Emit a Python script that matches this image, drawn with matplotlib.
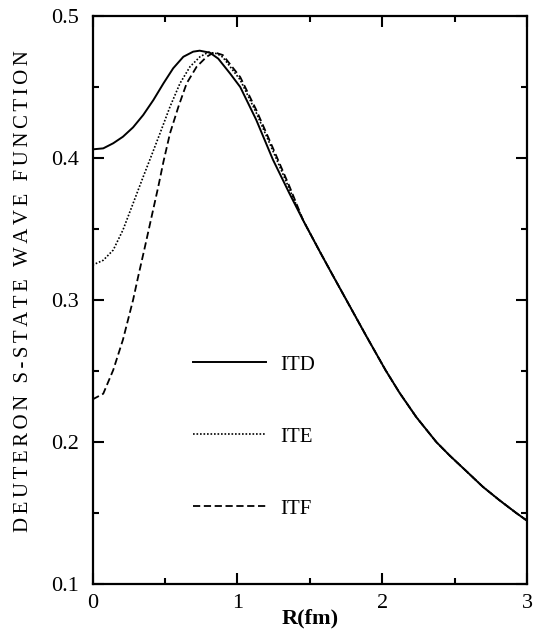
import numpy as np
import matplotlib
matplotlib.use('Agg')
import matplotlib.pyplot as plt
from matplotlib.ticker import MultipleLocator

plt.rcParams['font.family'] = ['Liberation Serif', 'DejaVu Serif']

# ---- values ----
# common tail (the three curves coincide beyond R ~ 1.45 fm)
r_tail = [1.455, 1.57, 1.661, 1.753, 1.891, 2.024, 2.121, 2.236, 2.374, 2.466,
          2.581, 2.695, 2.81, 2.926, 3.0]
psi_tail = [0.356, 0.334, 0.317, 0.300, 0.2745, 0.2505, 0.2345, 0.2175, 0.200, 0.1905,
            0.1795, 0.1685, 0.159, 0.150, 0.1446]

r_itd = [0.0, 0.074, 0.143, 0.21, 0.28, 0.35, 0.42, 0.49, 0.557, 0.627, 0.695, 0.74,
         0.81, 0.868, 0.95, 1.02, 1.13, 1.245, 1.36] + r_tail
psi_itd = [0.4061, 0.4068, 0.4104, 0.415, 0.4216, 0.4303, 0.4408, 0.4526, 0.4632, 0.4713, 0.4749, 0.4756,
           0.4742, 0.470, 0.4595, 0.450, 0.427, 0.399, 0.375] + psi_tail

r_ite = [0.0, 0.074, 0.143, 0.21, 0.28, 0.35, 0.408, 0.466, 0.535, 0.604, 0.673, 0.742,
         0.80, 0.86, 0.90, 1.02, 1.13, 1.25, 1.36] + r_tail
psi_ite = [0.3246, 0.328, 0.3352, 0.3493, 0.368, 0.3868, 0.402, 0.4174, 0.4361, 0.4526, 0.4643, 0.4713,
           0.4745, 0.4735, 0.471, 0.455, 0.432, 0.404, 0.378] + psi_tail

r_itf = [0.0, 0.074, 0.143, 0.21, 0.28, 0.315, 0.362, 0.408, 0.454, 0.49, 0.535, 0.593,
         0.65, 0.719, 0.788, 0.84, 0.90, 1.02, 1.13, 1.25, 1.36] + r_tail
psi_itf = [0.230, 0.234, 0.2507, 0.272, 0.300, 0.3164, 0.3375, 0.3587, 0.3798, 0.3975, 0.4174, 0.4361,
           0.4526, 0.4643, 0.4713, 0.4745, 0.4725, 0.457, 0.434, 0.406, 0.380] + psi_tail

labels = ['ITD', 'ITE', 'ITF']

fig = plt.figure(figsize=(5.42, 6.41), dpi=100)
ax = fig.add_axes([0.1707, 0.0889, 0.8016, 0.8861])

ax.plot(r_itd, psi_itd, color='black', lw=1.4, linestyle='-', label=labels[0])
ax.plot(r_ite, psi_ite, color='black', lw=1.2, linestyle=(0, (1, 1.1)), label=labels[1])
ax.plot(r_itf, psi_itf, color='black', lw=1.3, linestyle=(0, (4, 2)), label=labels[2])

ax.set_xlim(0, 3)
ax.set_ylim(0.1, 0.5)
ax.xaxis.set_major_locator(MultipleLocator(1))
ax.xaxis.set_minor_locator(MultipleLocator(0.5))
ax.yaxis.set_major_locator(MultipleLocator(0.1))
ax.yaxis.set_minor_locator(MultipleLocator(0.05))
ax.xaxis.set_major_formatter(plt.FuncFormatter(lambda v, p: f'{v:g}'))
ax.yaxis.set_major_formatter(plt.FuncFormatter(lambda v, p: f'{v:.1f}'))

ax.tick_params(which='both', direction='in', top=True, right=True, width=1.5)
ax.tick_params(which='major', length=8, labelsize=16)
ax.tick_params(axis='y', which='major', pad=10)
ax.tick_params(axis='x', which='major', pad=7)
ax.tick_params(which='minor', length=4.5)
for s in ax.spines.values():
    s.set_linewidth(1.6)

ax.set_xlabel('R(fm)', fontsize=16, fontweight='bold', labelpad=-3)
# the reference title is letter-spaced, so narrow spaces go between the letters
ylab = '\u2006'.join('DEUTERON S-STATE WAVE FUNCTION')
ax.set_ylabel(ylab, fontsize=15)
ax.yaxis.set_label_coords(-0.137, 0.516)

ax.legend(frameon=False, loc='center left', bbox_to_anchor=(0.231, 0.259),
          fontsize=15, handlelength=3.5, handletextpad=0.7, labelspacing=2.52,
          borderpad=0, borderaxespad=0)

fig.savefig('out.png', dpi=100)
